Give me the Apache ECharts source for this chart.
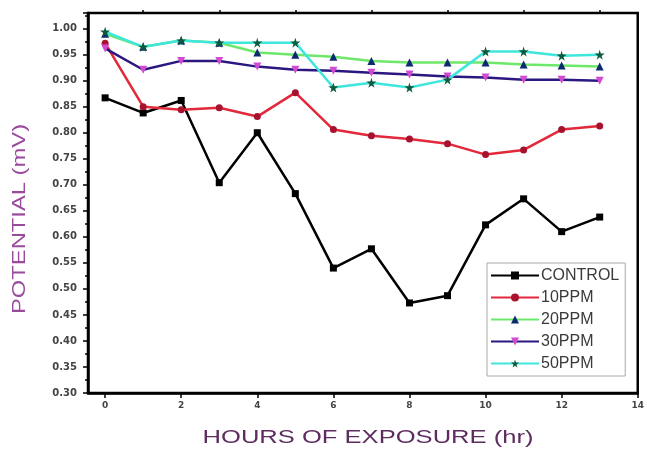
<!DOCTYPE html>
<html>
<head>
<meta charset="utf-8">
<script src="https://cdn.jsdelivr.net/npm/echarts@6/dist/echarts.min.js"></script>
<style>
  html, body { margin: 0; padding: 0; background: #fff; }
  #chart { width: 647px; height: 453px; }
</style>
</head>
<body>
<div id="chart"></div>
<script>
// Exposure time (hours)
const hours = [0, 1, 2, 3, 4, 5, 6, 7, 8, 9, 10, 11, 12, 13];

// Potential readings (mV) for each inhibitor concentration
const control = [0.867, 0.838, 0.862, 0.704, 0.800, 0.683, 0.540, 0.577, 0.473, 0.487, 0.623, 0.673, 0.610, 0.638];
const ppm10   = [0.972, 0.850, 0.844, 0.848, 0.831, 0.877, 0.806, 0.794, 0.788, 0.779, 0.758, 0.767, 0.806, 0.813];
const ppm20   = [0.990, 0.965, 0.977, 0.973, 0.954, 0.950, 0.946, 0.938, 0.935, 0.935, 0.935, 0.931, 0.929, 0.927];
const ppm30   = [0.962, 0.921, 0.938, 0.938, 0.927, 0.921, 0.919, 0.915, 0.912, 0.908, 0.906, 0.902, 0.902, 0.900];
const ppm50   = [0.994, 0.965, 0.977, 0.973, 0.973, 0.973, 0.887, 0.896, 0.887, 0.902, 0.956, 0.956, 0.948, 0.950];

// Axis tick values
const xMajorTicks = [0, 2, 4, 6, 8, 10, 12, 14];
const xMinorTicks = [1, 3, 5, 7, 9, 11, 13];

const starPath = 'path://M50,0 L61,35 L98,35 L68,57 L79,91 L50,70 L21,91 L32,57 L2,35 L39,35 Z';

function pairs(vals) { return hours.map((h, i) => [h, vals[i]]); }

function lineSeries(name, vals, lineColor, markColor, symbol, size, rotate) {
  return {
    name: name,
    type: 'line',
    data: pairs(vals),
    symbol: symbol,
    symbolSize: size,
    symbolRotate: rotate || 0,
    showAllSymbol: true,
    lineStyle: { color: lineColor, width: 2.5 },
    itemStyle: { color: markColor, borderWidth: 0 },
    color: lineColor,
    emphasis: { disabled: true },
    animation: false
  };
}

const chart = echarts.init(document.getElementById('chart'));

const xBase = {
  type: 'value',
  min: -0.45,
  max: 14,
  splitLine: { show: false },
  axisLine: { show: false },
};

const tickLabelStyle = { color: '#444', fontSize: 10, fontWeight: 'bold', fontFamily: 'DejaVu Sans' };

chart.setOption({
  backgroundColor: '#fff',
  grid: {
    left: 88, right: 6, top: 13, bottom: 60,
    show: true, borderColor: '#000', borderWidth: 2.5, backgroundColor: 'transparent'
  },
  xAxis: [
    Object.assign({}, xBase, {
      axisLine: { show: true, onZero: false, lineStyle: { color: '#000', width: 2.5 } },
      axisTick: { show: true, customValues: xMajorTicks, length: 5, lineStyle: { color: '#000', width: 1.5 } },
      axisLabel: Object.assign({ customValues: xMajorTicks, margin: 8, fontSize: 9 }, { color: '#444', fontWeight: 'bold', fontFamily: 'DejaVu Sans' })
    }),
    Object.assign({}, xBase, {
      gridIndex: 0,
      axisTick: { show: true, customValues: xMinorTicks, length: 3, lineStyle: { color: '#000', width: 1.5 } },
      axisLabel: { show: false }
    })
  ],
  yAxis: {
    type: 'value',
    min: 0.30,
    max: 1.03,
    interval: 0.05,
    splitLine: { show: false },
    axisLine: { show: true, onZero: false, lineStyle: { color: '#000', width: 2.5 } },
    axisTick: { show: true, length: 5, lineStyle: { color: '#000', width: 1.5 } },
    minorTick: { show: true, splitNumber: 2, length: 3, lineStyle: { color: '#000', width: 1.5 } },
    axisLabel: Object.assign({
      margin: 11,
      showMaxLabel: false,
      formatter: v => v.toFixed(2)
    }, tickLabelStyle)
  },
  graphic: [
    {
      type: 'text',
      x: 20, y: 219,
      rotation: Math.PI / 2,
      scaleX: 1.32,
      style: {
        text: 'POTENTIAL (mV)',
        fill: '#9a4a9c',
        font: '18px "Liberation Sans"',
        align: 'center',
        verticalAlign: 'middle'
      },
      silent: true
    },
    {
      type: 'text',
      x: 368, y: 438,
      scaleX: 1.42,
      style: {
        text: 'HOURS OF EXPOSURE (hr)',
        fill: '#5e2c60',
        font: '18px "Liberation Sans"',
        align: 'center',
        verticalAlign: 'middle'
      },
      silent: true
    }
  ],
  legend: {
    orient: 'vertical',
    left: 487,
    top: 263,
    padding: [4, 6, 4, 3],
    itemGap: 5,
    itemWidth: 48,
    itemHeight: 10,
    borderColor: '#aaa',
    borderWidth: 1,
    backgroundColor: '#fff',
    textStyle: { color: '#3a3a3a', fontSize: 16, lineHeight: 17, fontFamily: 'Liberation Sans', padding: [0, 0, 0, -3] },
    data: ['CONTROL', '10PPM', '20PPM', '30PPM', '50PPM']
  },
  series: [
    lineSeries('CONTROL', control, '#000000', '#000000', 'rect', 7),
    lineSeries('10PPM', ppm10, '#e2283a', '#a8122e', 'circle', 7),
    lineSeries('20PPM', ppm20, '#6ee86a', '#0c2a6e', 'triangle', 8),
    lineSeries('30PPM', ppm30, '#2c1680', '#d24ad2', 'triangle', 8, 180),
    lineSeries('50PPM', ppm50, '#3ee6dc', '#0b5a3c', starPath, 10)
  ]
});
</script>
</body>
</html>
